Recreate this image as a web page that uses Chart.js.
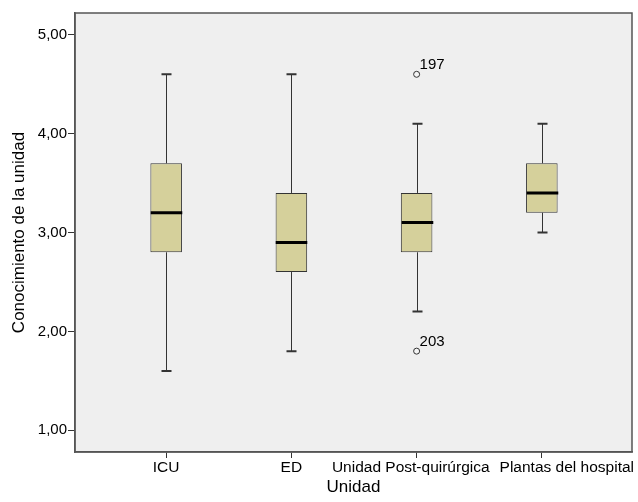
<!DOCTYPE html>
<html>
<head>
<meta charset="utf-8">
<script src="https://cdn.jsdelivr.net/npm/chart.js@4/dist/chart.umd.min.js"></script>
<style>
  html, body { margin: 0; padding: 0; background: #fff; }
  #wrap { width: 638px; height: 502px; }
</style>
</head>
<body>
<div id="wrap"><canvas id="myChart"></canvas></div>
<script>
// Box plot data per unit
var units = ['ICU', 'ED', 'Unidad Post-quirúrgica', 'Plantas del hospital'];
var whiskerLow = [1.6, 1.8, 2.2, 3.0];
var q1 = [2.8, 2.6, 2.8, 3.2];
var median = [3.2, 2.9, 3.1, 3.4];
var q3 = [3.7, 3.4, 3.4, 3.7];
var whiskerHigh = [4.6, 4.6, 4.1, 4.1];

// Outliers: unit index, value, case label
var outlierUnit = [2, 2];
var outlierValue = [4.6, 1.8];
var outlierLabel = ['197', '203'];

var yTicks = [1, 2, 3, 4, 5];

var FONT = '"Liberation Sans", Arial, sans-serif';

var boxExtras = {
    id: 'boxExtras',
    beforeDraw: function (chart) {
        var a = chart.chartArea;
        var ctx = chart.ctx;
        ctx.save();
        ctx.fillStyle = '#efefef';
        ctx.fillRect(a.left, a.top, a.right - a.left, a.bottom - a.top);
        ctx.restore();
    },
    afterDatasetsDraw: function (chart) {
        var ctx = chart.ctx;
        var x = chart.scales.x, y = chart.scales.y;
        var bars = chart.getDatasetMeta(0).data;
        ctx.save();
        units.forEach(function (u, i) {
            var cx = Math.round(x.getPixelForValue(i)) + 0.5;
            var half = bars[i].width / 2;
            // whisker lines
            ctx.strokeStyle = '#333';
            ctx.lineWidth = 1;
            ctx.beginPath();
            ctx.moveTo(cx, y.getPixelForValue(q3[i]));
            ctx.lineTo(cx, y.getPixelForValue(whiskerHigh[i]));
            ctx.moveTo(cx, y.getPixelForValue(q1[i]));
            ctx.lineTo(cx, y.getPixelForValue(whiskerLow[i]));
            ctx.stroke();
            // caps
            ctx.lineWidth = 2;
            ctx.beginPath();
            ctx.moveTo(cx - 5, y.getPixelForValue(whiskerHigh[i]));
            ctx.lineTo(cx + 5, y.getPixelForValue(whiskerHigh[i]));
            ctx.moveTo(cx - 5, y.getPixelForValue(whiskerLow[i]));
            ctx.lineTo(cx + 5, y.getPixelForValue(whiskerLow[i]));
            ctx.stroke();
            // median
            ctx.strokeStyle = '#000';
            ctx.lineWidth = 3;
            ctx.beginPath();
            ctx.moveTo(cx - half, y.getPixelForValue(median[i]));
            ctx.lineTo(cx + half, y.getPixelForValue(median[i]));
            ctx.stroke();
        });
        // outlier case numbers
        ctx.fillStyle = '#000';
        ctx.font = '15px ' + FONT;
        ctx.textAlign = 'left';
        ctx.textBaseline = 'alphabetic';
        outlierLabel.forEach(function (lab, k) {
            var px = x.getPixelForValue(outlierUnit[k]);
            var py = y.getPixelForValue(outlierValue[k]);
            ctx.fillText(lab, px + 3, py - 5);
        });
        ctx.restore();
    },
    afterDraw: function (chart) {
        var a = chart.chartArea;
        var ctx = chart.ctx;
        var x = chart.scales.x;
        ctx.save();
        ctx.strokeStyle = '#555';
        ctx.lineWidth = 1.5;
        ctx.strokeRect(a.left, a.top, a.right - a.left, a.bottom - a.top);

        // category labels, pushed apart where they would overlap
        ctx.font = '15.5px ' + FONT;
        ctx.fillStyle = '#000';
        ctx.textAlign = 'center';
        ctx.textBaseline = 'middle';
        var gap = 10, edge = chart.width - 4;
        var pos = units.map(function (u, i) { return x.getPixelForValue(i); });
        var w = units.map(function (u) { return ctx.measureText(u).width; });
        for (var i = 1; i < units.length; i++) {
            var need = (pos[i - 1] + w[i - 1] / 2 + gap) - (pos[i] - w[i] / 2);
            if (need > 0) {
                var room = Math.max(0, edge - (pos[i] + w[i] / 2));
                var shift = Math.min(need, room);
                pos[i] += shift;
                pos[i - 1] -= need - shift;
            }
        }
        units.forEach(function (u, i) {
            ctx.fillText(u, pos[i], a.bottom + 16);
        });
        ctx.restore();
    }
};

var ctx = document.getElementById('myChart');
var myChart = new Chart(ctx, {
    type: 'bar',
    data: {
        datasets: [
            {
                type: 'bar',
                data: units.map(function (u, i) { return { x: i, y: [q1[i], q3[i]] }; }),
                backgroundColor: '#d5d09b',
                borderColor: '#333',
                borderWidth: 1,
                borderSkipped: false,
                barPercentage: 0.252,
                categoryPercentage: 1
            },
            {
                type: 'scatter',
                data: outlierUnit.map(function (u, k) { return { x: u, y: outlierValue[k] }; }),
                pointRadius: 3,
                pointBackgroundColor: '#f4f4f4',
                pointBorderColor: '#333',
                pointBorderWidth: 1
            }
        ]
    },
    options: {
        responsive: true,
        maintainAspectRatio: false,
        animation: false,
        layout: { padding: { top: 13, right: 6, left: 0, bottom: 0 } },
        plugins: {
            legend: { display: false },
            tooltip: { enabled: false }
        },
        scales: {
            x: {
                type: 'linear',
                offset: false,
                min: -0.728,
                max: 3.72,
                afterBuildTicks: function (scale) {
                    scale.ticks = units.map(function (u, i) { return { value: i }; });
                },
                afterFit: function (scale) { scale.height = 50; },
                grid: { offset: false, drawOnChartArea: false, tickLength: 6, tickColor: '#333', tickWidth: 1 },
                border: { color: '#555', width: 1.5 },
                ticks: { display: false },
                title: {
                    display: true,
                    text: 'Unidad',
                    color: '#000',
                    padding: { top: 0, bottom: 4 },
                    font: { family: FONT, size: 17 }
                }
            },
            y: {
                min: 0.78,
                max: 5.22,
                afterBuildTicks: function (scale) {
                    scale.ticks = yTicks.map(function (v) { return { value: v }; });
                },
                afterFit: function (scale) { scale.width = 75; },
                grid: { drawOnChartArea: false, tickLength: 7, tickColor: '#333', tickWidth: 1 },
                border: { color: '#555', width: 1.5 },
                ticks: {
                    padding: 1,
                    color: '#000',
                    font: { family: FONT, size: 15 },
                    callback: function (v) { return v.toFixed(2).replace('.', ','); }
                },
                title: {
                    display: true,
                    text: 'Conocimiento de la unidad',
                    color: '#000',
                    padding: { top: 9, bottom: 0 },
                    font: { family: FONT, size: 17 }
                }
            }
        }
    },
    plugins: [boxExtras]
});
</script>
</body>
</html>
